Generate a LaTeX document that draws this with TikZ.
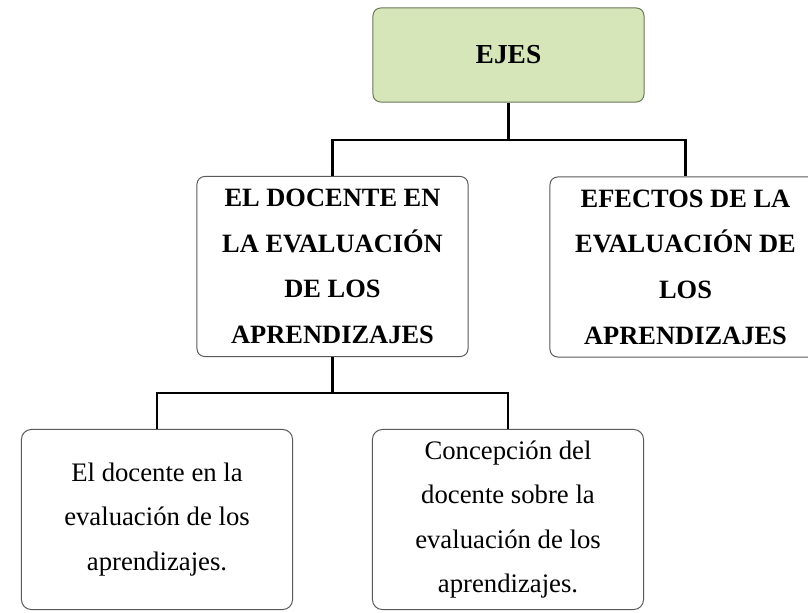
\documentclass[tikz,border=0pt]{standalone}
\usepackage{fontspec}
\setmainfont{Liberation Serif}
\usepackage{xcolor}
\usetikzlibrary{positioning}

\definecolor{ejesgreen}{RGB}{215,230,185}
\definecolor{ejesborder}{RGB}{105,120,85}

\begin{document}
\begin{tikzpicture}[x=0.025cm, y=-0.025cm,
    box/.style={rectangle, rounded corners=5.5pt, draw=black!65, fill=white, line width=0.7pt, minimum width=6.775cm, minimum height=4.5cm, align=center, font=\fontsize{19}{31.5}\selectfont},
    headbox/.style={box, font=\fontsize{18.8}{32.5}\selectfont\bfseries},
    ejesbox/.style={box, draw=ejesborder, fill=ejesgreen, minimum height=2.35cm, font=\fontsize{19.5}{22}\selectfont\bfseries},
    leafbox/.style={box, rounded corners=7pt},
    conn/.style={line width=2pt, black}
]

\useasboundingbox (0,0) rectangle (808,612);
\clip (0,0) rectangle (808,612);

% Top
\node[ejesbox] (ejes) at (508.5,55) {EJES};

% Second level
\node[headbox] (docente) at (332.5,266.5) {EL DOCENTE EN\\LA EVALUACIÓN\\DE LOS\\APRENDIZAJES};
\node[headbox] (efectos) at (685.5,267) {EFECTOS DE LA\\EVALUACIÓN DE\\LOS\\APRENDIZAJES};

% Third level
\node[leafbox] (rol) at (157,519.5) {El docente en la\\evaluación de los\\aprendizajes.};
\node[leafbox] (concepcion) at (508,519.5) {Concepción del\\docente sobre la\\evaluación de los\\aprendizajes.};

% Connectors
\coordinate (j1) at (508.5,140);
\coordinate (j2) at (332.5,393);
\draw[conn] (ejes.south) -- (j1);
\draw[conn] (j1) -| (docente.north);
\draw[conn] (j1) -| (efectos.north);
\draw[conn] (docente.south) -- (j2);
\draw[conn] (j2) -| (rol.north);
\draw[conn] (j2) -| (concepcion.north);

\end{tikzpicture}
\end{document}
